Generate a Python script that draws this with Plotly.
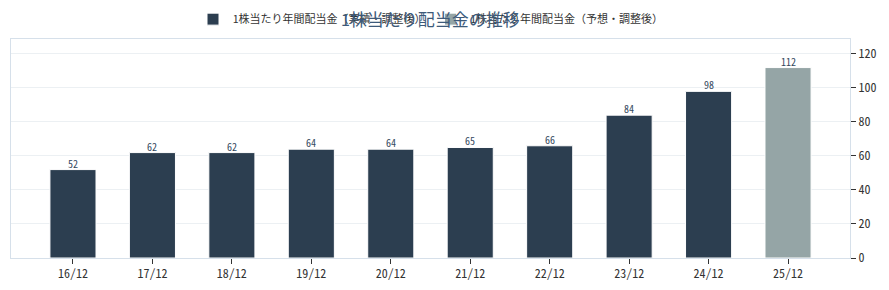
import plotly.graph_objects as go

categories = ["16/12", "17/12", "18/12", "19/12", "20/12", "21/12", "22/12", "23/12", "24/12", "25/12"]
actual_x = categories[:9]
actual_vals = [52, 62, 62, 64, 64, 65, 66, 84, 98]
forecast_x = categories[9:]
forecast_vals = [112]
tick_vals = [0, 20, 40, 60, 80, 100, 120]

font_family = "Noto Sans Mono CJK JP"
fig = go.Figure()
fig.add_trace(go.Bar(
    x=actual_x, y=actual_vals, name="1株当たり年間配当金（実績・調整後）",
    marker=dict(color="#2c3e50", line=dict(color="white", width=1)),
    width=0.58,
))
fig.add_trace(go.Bar(
    x=forecast_x, y=forecast_vals, name="1株当たり年間配当金（予想・調整後）",
    marker=dict(color="#95a5a6", line=dict(color="white", width=1)),
    width=0.58,
))
for xs, vs in ((actual_x, actual_vals), (forecast_x, forecast_vals)):
    for xv, v in zip(xs, vs):
        fig.add_annotation(x=xv, y=v, xref="x", yref="y", text=str(v), showarrow=False,
                           yanchor="bottom", yshift=-3,
                           font=dict(size=10, color="#34495e", family=font_family))
fig.update_layout(
    width=889, height=290,
    margin=dict(l=11, r=39, t=39, b=32, autoexpand=False),
    barmode="overlay",
    plot_bgcolor="white", paper_bgcolor="white",
    font=dict(family=font_family, size=11, color="#333"),
    title=dict(text="1株当たり配当金の推移", x=0.5, xref="paper", xanchor="center",
               y=0.93, yref="container", yanchor="middle",
               font=dict(size=17, color="#3d5a7a", family=font_family)),
    legend=dict(orientation="h", x=0.5, xanchor="center", y=0.934, yref="container", yanchor="middle",
                font=dict(size=11, color="#333", family=font_family), bgcolor="rgba(0,0,0,0)"),
    xaxis=dict(categoryorder="array", categoryarray=categories, range=[-0.78, 9.78],
               ticks="outside", ticklen=5,
               tickcolor="#333", showline=True, linecolor="#d6e0ea", mirror=True,
               tickfont=dict(size=12, color="#333")),
    yaxis=dict(side="right", range=[0, 112 * 1.15], tickvals=tick_vals, ticks="outside", ticklen=5,
               tickcolor="#333", showline=True, linecolor="#d6e0ea", mirror=True,
               gridcolor="#ecf0f3", zeroline=False, tickfont=dict(size=12, color="#333")),
)
fig.write_html("out.html")
